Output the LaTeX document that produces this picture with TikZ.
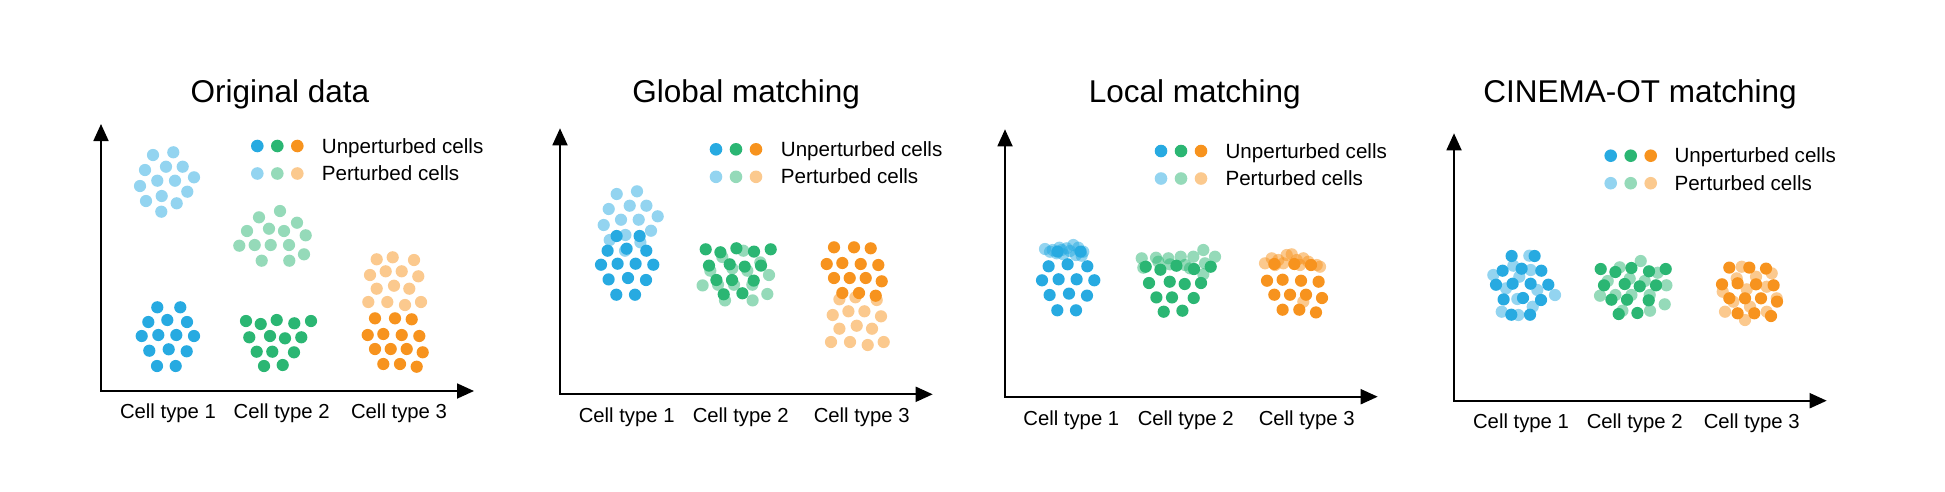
\documentclass[tikz,border=0pt]{standalone}
\usepackage{fontspec}
\setmainfont{Liberation Sans}
\usetikzlibrary{arrows.meta}
\definecolor{cblue}{HTML}{27AAE1}
\definecolor{cgreen}{HTML}{2BB673}
\definecolor{corange}{HTML}{F7931E}
\newcommand\shB{-10.7/-28.7,12.3/-28.7,-19.7/-14,-0.7/-16,19/-14,-26.3/0,-9.7/-1,8.3/-1,26/0,-18.7/14.7,0.7/13.3,18.7/15.3,-11/30,7.7/30}
\newcommand\shLB{-14/-27,6.3/-29.7,-22/-12,-1/-15.3,15.7/-15.3,27/-4.7,-27/4,-9.7/-1.3,8/-1.3,20.3/9.7,-21/19,-5.3/14,9.7/21.3,-5.7/29.7}
\newcommand\shG{-32/-22,-17.3/-19,-1.3/-23,16.3/-19.7,33/-22,-28.7/-5.7,-8/-7,7/-4.7,23.3/-5.7,-21.3/8.7,-5.7/8.7,16/9.3,-14/23,4.7/22}
\newcommand\shLG{8/-25,-13/-18.7,25/-13.3,-25/-5,-3/-7.3,12/-5,33.7/-0.7,-32.7/9.7,-17.3/9,-1.3/9,17/9,32/18.3,-10.3/24.7,17.3/24.7}
\newcommand\shO{-20/-23.7,0/-23.7,16.7/-22.7,-27.3/-7,-11.7/-8,6.7/-7,24.3/-6,-20/7,-4.3/7,11.7/7,27.7/10.3,-11.7/22,5/22,21.7/24.7}
\newcommand\shLO{-18.3/-21.7,-2.3/-23.7,19/-21,-25/-6,-9.3/-9.7,6.7/-9.7,23.3/-4.7,-18.3/7.7,-1/4.7,14.3/7.7,-26.7/21,-7.7/21,10/24,26/21}
\newcommand\cluster[5]{\foreach \a/\b in #5 {\fill[#1,fill opacity=#2] (#3+\a,#4+\b) circle[radius=6.1];}}
\tikzset{
  ttl/.style={font=\fontsize{31.5}{36}\selectfont, inner sep=0pt, anchor=base},
  lab/.style={font=\fontsize{20.3}{24}\selectfont, inner sep=0pt, anchor=base},
  leg/.style={font=\fontsize{20.6}{24}\selectfont, inner sep=0pt, anchor=base west},
  axis/.style={line width=1.8pt, {Triangle[length=17pt,width=15pt]}-{Triangle[length=17pt,width=15pt]}},
  dotc/.style={radius=6.3}
}
\newcommand\legend[4]{% x0 y0 textx name
  \fill[cblue] (#1,#2) circle[radius=6.3];
  \fill[cgreen] (#1+20,#2) circle[radius=6.3];
  \fill[corange] (#1+40,#2) circle[radius=6.3];
  \fill[cblue,fill opacity=0.5] (#1,#2+27.5) circle[radius=6.3];
  \fill[cgreen,fill opacity=0.5] (#1+20,#2+27.5) circle[radius=6.3];
  \fill[corange,fill opacity=0.5] (#1+40,#2+27.5) circle[radius=6.3];
  \node[leg] (#4u) at (#3,#2+7) {Unperturbed cells};
  \node[leg] (#4p) at (#3,#2+34.5) {Perturbed cells};
}
\begin{document}
\begin{tikzpicture}[x=1pt,y=-1pt]
\useasboundingbox (0,0) rectangle (1945,491);
% ---------- Panel 1 ----------
\node[ttl] (t1) at (280,102.7) {Original data};
\coordinate (o1) at (101,391);
\coordinate (y1) at (101,124);
\coordinate (x1) at (474,391);
\draw[axis] (y1) -- (o1) -- (x1);
\legend{257.3}{146}{321.7}{l1}
\cluster{cblue}{0.5}{167}{182}{\shLB}
\cluster{cgreen}{0.5}{272}{236}{\shLG}
\cluster{corange}{0.5}{395}{281}{\shLO}
\cluster{cblue}{1}{168}{336}{\shB}
\cluster{cgreen}{1}{278}{343}{\shG}
\cluster{corange}{1}{395}{342}{\shO}
\node[lab] (a1) at (168,418.3) {Cell type 1};
\node[lab] (b1) at (281.7,418.3) {Cell type 2};
\node[lab] (c1) at (399,418.3) {Cell type 3};
% ---------- Panel 2 ----------
\node[ttl] (t2) at (746.2,102.7) {Global matching};
\coordinate (o2) at (560,394.3);
\coordinate (y2) at (560,128.3);
\coordinate (x2) at (932.7,394.3);
\draw[axis] (y2) -- (o2) -- (x2);
\legend{716}{149.3}{780.7}{l2}
\cluster{cblue}{0.5}{630.7}{221}{\shLB}
\cluster{cgreen}{0.5}{735.3}{275.7}{\shLG}
\cluster{corange}{0.5}{857.7}{321}{\shLO}
\cluster{cblue}{1}{627.3}{264.7}{\shB}
\cluster{cgreen}{1}{737.7}{271.3}{\shG}
\cluster{corange}{1}{854}{271}{\shO}
\node[lab] (a2) at (626.7,422.7) {Cell type 1};
\node[lab] (b2) at (740.7,422.7) {Cell type 2};
\node[lab] (c2) at (861.7,422.7) {Cell type 3};
% ---------- Panel 3 ----------
\node[ttl] (t3) at (1194.7,102.7) {Local matching};
\coordinate (o3) at (1005,396.7);
\coordinate (y3) at (1005,129.3);
\coordinate (x3) at (1377.7,396.7);
\draw[axis] (y3) -- (o3) -- (x3);
\legend{1161}{151}{1225.3}{l3}
\cluster{cblue}{1}{1068.3}{280.3}{\shB}
\cluster{cgreen}{1}{1177.7}{288.7}{\shG}
\cluster{corange}{1}{1294.3}{287.7}{\shO}
\cluster{cblue}{0.5}{0}{0}{{1045/249,1052.7/250,1059.3/247.7,1056.7/253.3,1063.3/254.3,1073.3/245,1078.3/247.7,1083.3/251.7,1076/255,1070/251,1081.7/255.7,1061.7/250,1066.7/248.3,1050/251.7}}
\cluster{cgreen}{0.5}{0}{0}{{1141.7/258.3,1156/257.7,1168.3/258.3,1180.7/256.7,1193.3/256.7,1203.3/250,1215/256.7,1143.3/267.7,1170/264.3,1185/265,1190/268.3,1203.3/274.3,1205/263.3,1158.3/261.7}}
\cluster{corange}{0.5}{0}{0}{{1265/263.3,1271.7/258.3,1278.3/260,1286.7/255,1291.7/254.3,1296.7/260,1303.3/258.3,1308.3/261.7,1316.7/265,1320/266.7,1283.3/263.3,1275/265,1300/265,1303.3/301.7}}
\node[lab] (a3) at (1071.3,425) {Cell type 1};
\node[lab] (b3) at (1185.7,425) {Cell type 2};
\node[lab] (c3) at (1306.7,425) {Cell type 3};
% ---------- Panel 4 ----------
\node[ttl] (t4) at (1640,102.7) {CINEMA-OT matching};
\coordinate (o4) at (1454,400.7);
\coordinate (y4) at (1454,133.3);
\coordinate (x4) at (1826.7,400.7);
\draw[axis] (y4) -- (o4) -- (x4);
\legend{1610.7}{155.7}{1674.3}{l4}
\cluster{cblue}{0.5}{0}{0}{{1529.3/255.7,1513.3/265.7,1493.3/275,1530.7/270,1506/288.3,1519.3/276.7,1537.3/290,1555/295,1517.3/299,1532.7/306.7,1501.7/311.7,1518.3/315}}
\cluster{cgreen}{0.5}{1632.7}{286}{\shLG}
\cluster{corange}{0.5}{0}{0}{{1741.7/266.7,1771.7/273.3,1756/276.7,1736.7/278.3,1722.7/291.7,1746.7/289.3,1766.7/286.7,1776.7/298.3,1733.3/301.7,1750/306.7,1725/311.7,1745/320,1766.7/311.7}}
\cluster{cblue}{1}{1522.3}{284.7}{\shB}
\cluster{cgreen}{1}{1632.7}{291}{\shG}
\cluster{corange}{1}{1749.3}{291.3}{\shO}
\node[lab] (a4) at (1521,428.3) {Cell type 1};
\node[lab] (b4) at (1634.7,428.3) {Cell type 2};
\node[lab] (c4) at (1751.7,428.3) {Cell type 3};
\end{tikzpicture}
\end{document}
